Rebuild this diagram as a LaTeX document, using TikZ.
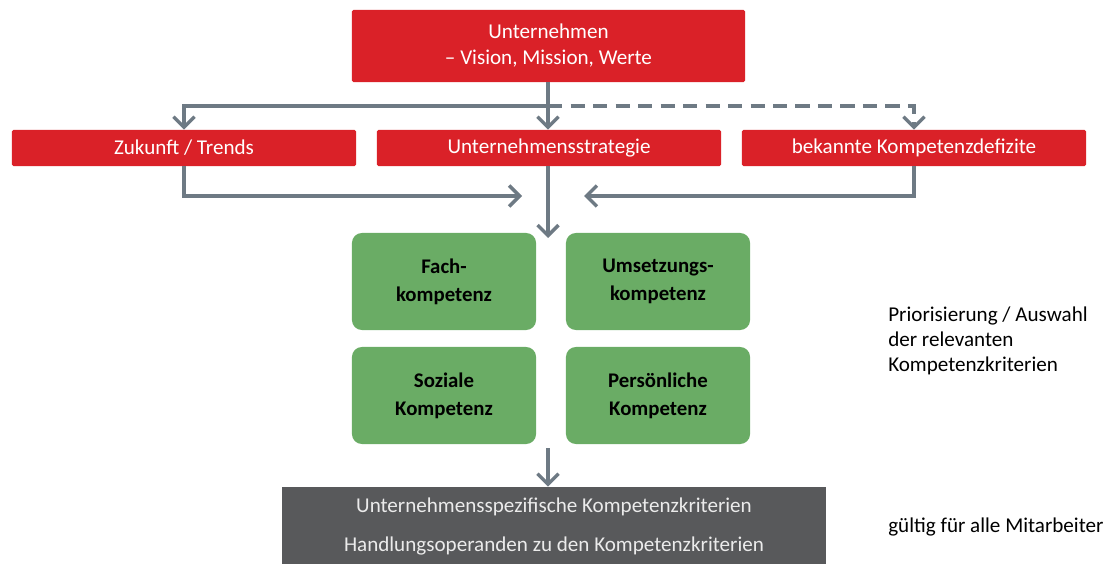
\documentclass[tikz,border=0pt]{standalone}
\usepackage{fontspec}
\setmainfont{Carlito}
\usetikzlibrary{arrows.meta}

\definecolor{firmred}{RGB}{218,33,40}
\definecolor{kompgreen}{RGB}{106,172,101}
\definecolor{critgray}{RGB}{88,89,91}
\definecolor{arrowgray}{RGB}{110,122,132}

\tikzset{
  redbox/.style={fill=firmred,text=white,rounded corners=1pt,inner sep=0pt,
    align=center,font=\fontsize{15}{18.5}\selectfont},
  greenbox/.style={fill=kompgreen,text=black,rounded corners=7pt,inner sep=0pt,
    align=center,minimum width=4.6cm,minimum height=2.425cm,
    font=\fontsize{14.8}{20}\selectfont\bfseries},
  graybox/.style={fill=critgray,text=white!92!black,inner sep=0pt,
    minimum width=13.6cm,font=\fontsize{15}{17}\selectfont},
  arr/.style={draw=arrowgray,line width=2.4pt,
    -{Straight Barb[length=7.5pt,width=15pt,line width=2.4pt]}},
  note/.style={anchor=west,align=left,inner sep=0pt,
    font=\fontsize{15}{18}\selectfont}
}

\begin{document}
\begin{tikzpicture}[x=0.025cm,y=-0.025cm]
\useasboundingbox (0,0) rectangle (1119,564);

% oben
\node[redbox,minimum width=9.825cm,minimum height=1.8cm] (firm) at (548.5,46)
  {Unternehmen\\-- Vision, Mission, Werte};

% zweite Reihe
\node[redbox,minimum width=8.6cm,minimum height=0.9cm] (trend) at (184,148) {Zukunft / Trends};
\node[redbox,minimum width=8.6cm,minimum height=0.9cm] (strat) at (549,148) {Unternehmensstrategie};
\node[redbox,minimum width=8.6cm,minimum height=0.9cm] (gaps) at (914,148) {bekannte Kompetenzdefizite};

% Kompetenzen
\node[greenbox] (fach) at (444,281.5) {Fach-\\kompetenz};
\node[greenbox] (umsetz) at (658,281.5) {Umsetzungs-\\kompetenz};
\node[greenbox] (sozial) at (444,395.5) {Soziale\\Kompetenz};
\node[greenbox] (person) at (658,395.5) {Persönliche\\Kompetenz};

% Kriterien
\node[graybox,minimum height=1.0cm] (spez) at (554,507) {Unternehmensspezifische Kompetenzkriterien};
\node[graybox,minimum height=0.925cm] (hand) at (554,545.5) {Handlungsoperanden zu den Kompetenzkriterien};

% Hinweise rechts
\node[note] (prio) at (888,341) {Priorisierung / Auswahl\\der relevanten\\Kompetenzkriterien};
\node[note] (gilt) at (888,527) {gültig für alle Mitarbeiter};

% Pfeile
\coordinate (split) at (548,106);
\coordinate (inL) at (522,196);
\coordinate (inR) at (584,196);
\coordinate (inC) at (548,238);
\coordinate (outC) at (548,448);

\draw[arr] (firm.south -| split) -- (strat.north -| split);
\draw[arr] (split) -| (trend.north);
\draw[arr,dashed,dash pattern=on 10pt off 6pt] (split) -| (gaps.north);
\draw[arr] (trend.south) |- (inL);
\draw[arr] (gaps.south) |- (inR);
\draw[arr] (strat.south -| inC) -- (inC);
\draw[arr] (outC) -- (spez.north -| outC);
\end{tikzpicture}
\end{document}
